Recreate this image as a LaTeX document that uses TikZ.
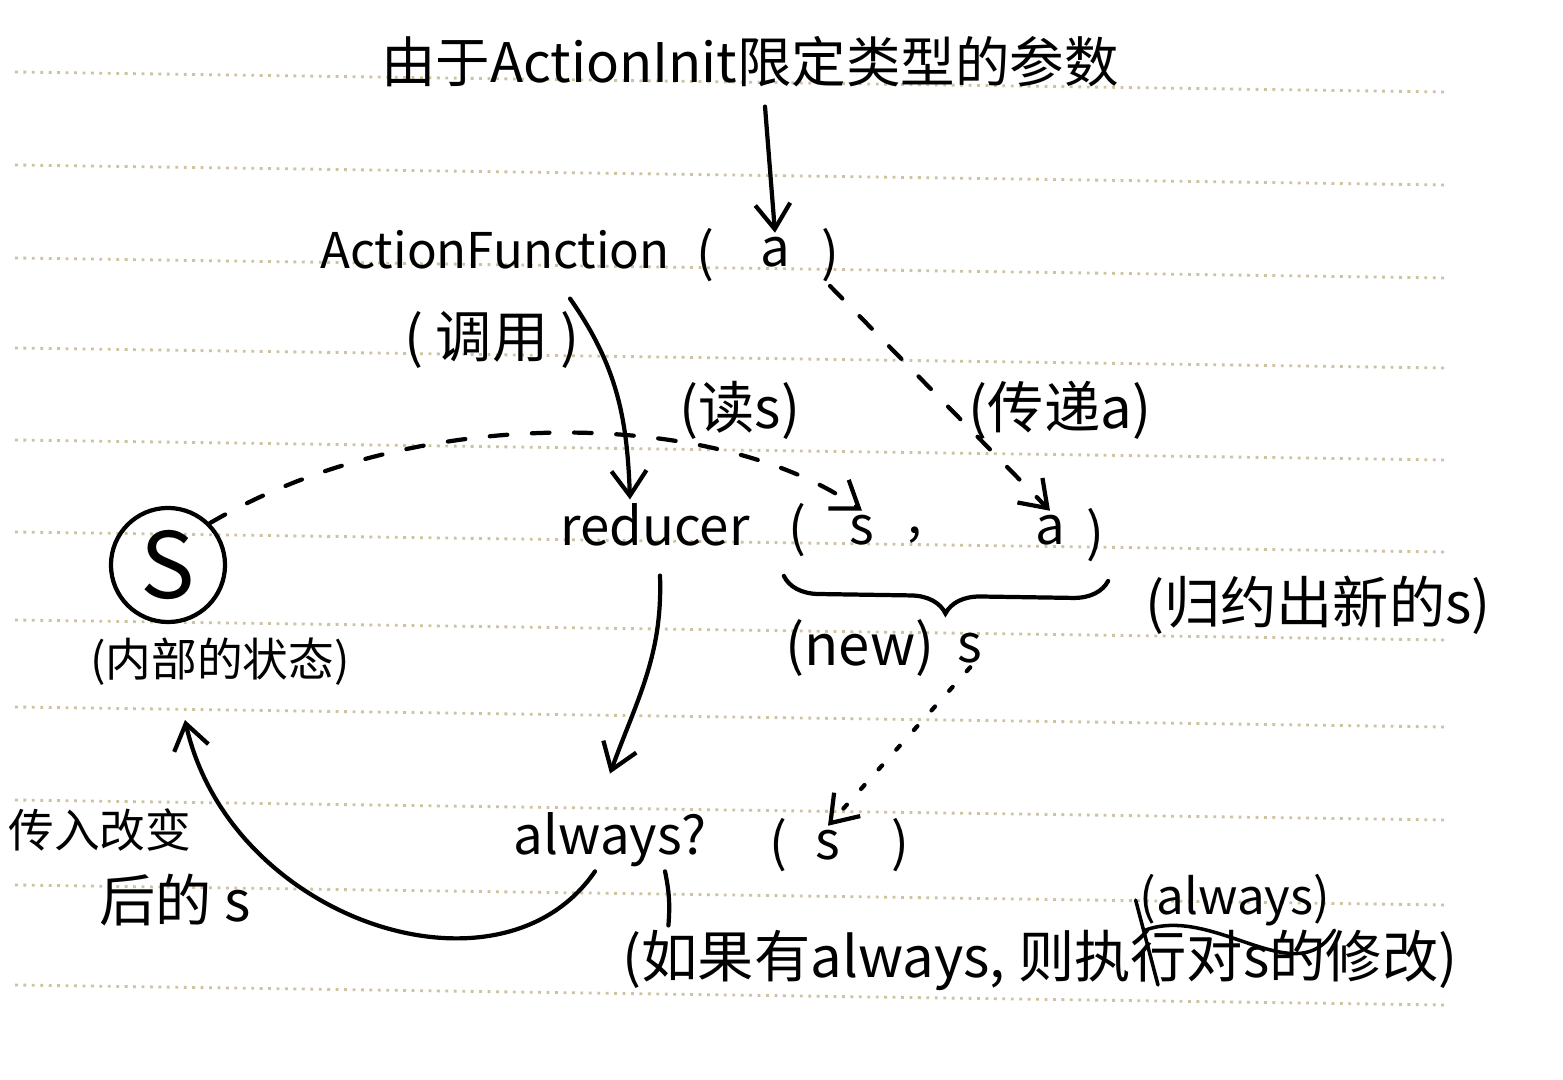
\documentclass[tikz,border=0pt]{standalone}
\usepackage{fontspec}
\setmainfont{Noto Sans CJK SC}
\usetikzlibrary{positioning}
\usetikzlibrary{arrows.meta}
\usetikzlibrary{decorations.pathreplacing}
\definecolor{ruled}{RGB}{205,195,160}
\tikzset{code/.style={inner sep=1pt, font=\fontsize{15}{18}\selectfont}}
\tikzset{note/.style={inner sep=1pt, font=\fontsize{16}{19}\selectfont}}
\tikzset{smallnote/.style={inner sep=1pt, font=\fontsize{13}{16}\selectfont}}
\tikzset{pen/.style={line width=1.2pt, line cap=round}}
\tikzset{penarrow/.style={pen, -{Straight Barb[length=2.5mm,width=3.5mm]}}}
\tikzset{dasharrow/.style={penarrow, dash pattern=on 5pt off 7pt}}
\tikzset{dotarrow/.style={penarrow, dash pattern=on 1.5pt off 6pt}}
\tikzset{ruling/.style={draw=ruled, line width=0.8pt, dash pattern=on 0.8pt off 1.6pt}}

\begin{document}
\begin{tikzpicture}[x=0.01cm, y=-0.01cm]
    \useasboundingbox (0,0) rectangle (1563,1080);

    % notebook lines
    \foreach \ry in {72,165,258,348,440,532,620,707,800,885,985}
        \draw[ruling] (15,\ry) -- (1445,\ry+20);

    \node[note, font=\fontsize{15.5}{18}\selectfont] (title) at (750,62) {由于ActionInit限定类型的参数};

    \node[code, font=\fontsize{14}{17}\selectfont] (afn) at (495,250) {ActionFunction};
    \node[code] (afl) at (705,255) {(};
    \node[code] (afa) at (775,252) {a};
    \node[code] (afr) at (830,255) {)};
    \node[note] (callnote) at (492,340) {( 调用 )};

    \node[code] (red) at (655,525) {reducer};
    \node[code] (redl) at (797,530) {(};
    \node[code] (reds) at (862,530) {s};
    \node[code] (redc) at (915,535) {,};
    \node[code] (reda) at (1050,530) {a};
    \node[code] (redr) at (1095,535) {)};

    \node[note] (readnote) at (740,410) {(读s)};
    \node[note] (passnote) at (1060,410) {(传递a)};
    \node[note] (reducenote) at (1318,605) {(归约出新的s)};
    \node[note] (newnote) at (860,648) {(new)};
    \node[code] (news) [right=0.15cm of newnote] {s};

    \node[code] (alw) at (610,840) {always?};
    \node[code] (alwl) at (778,845) {(};
    \node[code] (alws) at (828,845) {s};
    \node[code] (alwr) at (900,845) {)};

    \node[circle, draw, pen, minimum size=1.14cm, inner sep=0pt,
        font=\fontsize{26}{26}\selectfont] (st) at (168,565) {S};
    \node[smallnote] (statenote) at (220,662) {(内部的状态)};
    \node[smallnote] (backnote) at (100,830) {传入改变};
    \node[note] (backnotes) at (175,900) {后的 s};

    \node[note] (ifnote) at (1040,960) {(如果有always, 则执行对s的修改)};
    \node[smallnote, font=\fontsize{14}{17}\selectfont] (alwins) at (1235,900) {(always)};
    \coordinate (inspt) at (1158,985);

    \draw[penarrow] ([xshift=0.15cm,yshift=-0.15cm]title.south) -- (afa.north);
    \draw[penarrow] ([xshift=0.75cm,yshift=-0.25cm]afn.south) to[out=-55,in=92] ([xshift=-0.25cm]red.north);
    \draw[dasharrow] (st.north east) .. controls (420,400) and (720,410) .. (reds.north);
    \draw[dasharrow] (afr.south) -- (reda.north);
    \draw[pen, decorate, decoration={brace, mirror, amplitude=0.35cm}]
        ([yshift=-0.15cm]redl.south west) -- ([yshift=-0.15cm]redr.south east);
    \draw[dotarrow] (news.south) -- (alws.north);
    \draw[penarrow] ([xshift=0.05cm,yshift=-0.25cm]red.south) to[out=-88,in=70] ([yshift=0.35cm]alw.north);
    \draw[penarrow] ([xshift=-0.15cm]alw.south) .. controls (500,1010) and (230,920) ..
        ([xshift=-0.35cm,yshift=-0.3cm]statenote.south);
    \draw[pen] ([xshift=0.55cm]alw.south) to[bend left=8] ([xshift=0.5cm]ifnote.north west);
    \draw[pen, line width=1pt] (alwins.west) -- (inspt);
    \draw[pen, line width=1pt] ([xshift=0.1cm,yshift=-0.3cm]alwins.west) to[out=20,in=-120] (alwins.south east);

\end{tikzpicture}
\end{document}
